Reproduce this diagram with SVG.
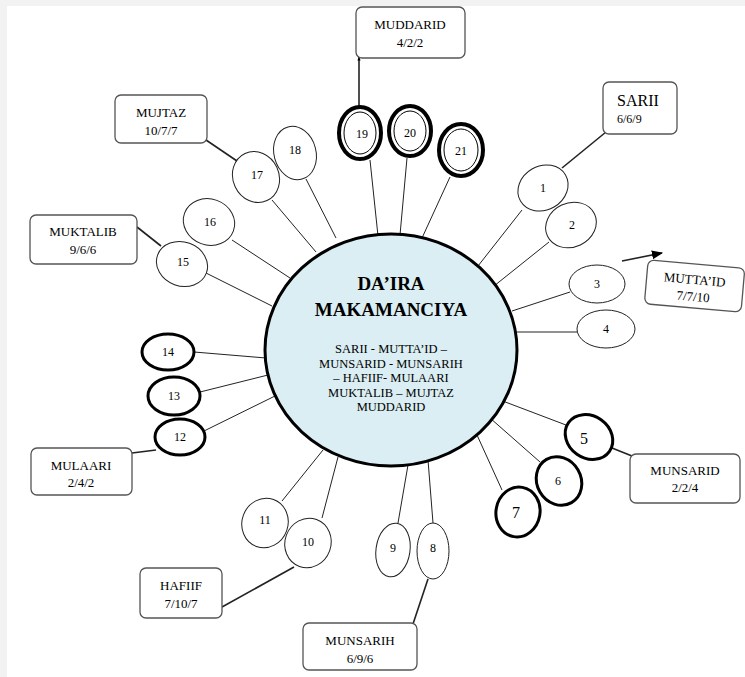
<svg xmlns="http://www.w3.org/2000/svg" width="745" height="677" viewBox="0 0 745 677">
<style>
.n{fill:#fff;stroke:#222;stroke-width:1}
.k{fill:#fff;stroke:#000;stroke-width:3}
.o{fill:#fff;stroke:#000;stroke-width:4}
.i{fill:none;stroke:#000;stroke-width:1}
.b{fill:#fff;stroke:#555;stroke-width:1.3}
.l{stroke:#222;stroke-width:1;fill:none}
.lt{stroke:#222;stroke-width:1.6;fill:none}
.t{font-family:"Liberation Serif",serif;font-size:12px;fill:#000;text-anchor:middle}
.bt{font-family:"Liberation Serif",serif;font-size:13px;fill:#000;text-anchor:middle}
.big{font-size:16px}
.sub{font-size:12.5px}
</style>
<defs>
<marker id="ah" viewBox="0 0 10 10" refX="9" refY="5" markerWidth="7" markerHeight="7" orient="auto"><path d="M0,1 L10,5 L0,9 z" fill="#000"/></marker>
<marker id="ah2" viewBox="0 0 10 10" refX="9" refY="5" markerWidth="2.5" markerHeight="2.5" orient="auto"><path d="M0,1 L10,5 L0,9 z" fill="#000"/></marker>
</defs>
<rect x="0" y="0" width="745" height="677" fill="#f2f2f2"/>
<rect x="7" y="6" width="738" height="671" fill="#fff"/>
<g id="connectors">
<line class="l" x1="522" y1="210" x2="478" y2="266"/>
<line class="lt" x1="562" y1="168" x2="606" y2="132"/>
<line class="l" x1="549" y1="242" x2="494" y2="286"/>
<line class="l" x1="570" y1="292" x2="512" y2="311"/>
<line class="l" x1="578" y1="332" x2="514" y2="332"/>
<line class="l" x1="566" y1="425" x2="500" y2="400"/>
<line class="lt" x1="612" y1="448" x2="632" y2="456"/>
<line class="l" x1="540" y1="462" x2="490" y2="418"/>
<line class="l" x1="502" y1="490" x2="477" y2="435"/>
<line class="l" x1="433" y1="523" x2="428" y2="460"/>
<line class="lt" x1="428" y1="579" x2="413" y2="624"/>
<line class="l" x1="398" y1="523" x2="408" y2="465"/>
<line class="l" x1="322" y1="518" x2="338" y2="457"/>
<line class="lt" x1="294" y1="567" x2="222" y2="607"/>
<line class="l" x1="282" y1="501" x2="323" y2="450"/>
<line class="l" x1="204" y1="431" x2="275" y2="396"/>
<line class="lt" x1="156" y1="450" x2="132" y2="453"/>
<line class="l" x1="200" y1="392" x2="268" y2="375"/>
<line class="l" x1="194" y1="352" x2="266" y2="358"/>
<line class="l" x1="206" y1="273" x2="272" y2="306"/>
<line class="lt" x1="137" y1="227" x2="161" y2="246"/>
<line class="l" x1="232" y1="240" x2="290" y2="278"/>
<line class="l" x1="272" y1="200" x2="316" y2="252"/>
<line class="lt" x1="206" y1="140" x2="237" y2="161"/>
<line class="l" x1="306" y1="179" x2="336" y2="238"/>
<line class="l" x1="370" y1="160" x2="378" y2="236"/>
<line class="lt" x1="359" y1="106" x2="359" y2="57" marker-end="url(#ah2)"/>
<line class="l" x1="407" y1="158" x2="400" y2="235"/>
<line class="l" x1="450" y1="177" x2="422" y2="238"/>
<line class="lt" x1="622" y1="261" x2="662" y2="253" marker-end="url(#ah)"/>
</g>
<g id="center">
<ellipse cx="391" cy="350" rx="126" ry="116" fill="#daeef3" stroke="#000" stroke-width="3"/>
<text class="t" x="391" y="290" style="font-size:19px;font-weight:bold">DA’IRA</text>
<text class="t" x="391" y="316" style="font-size:19px;font-weight:bold">MAKAMANCIYA</text>
<text class="t sub" x="391" y="353">SARII - MUTTA’ID –</text>
<text class="t sub" x="391" y="368">MUNSARID - MUNSARIH</text>
<text class="t sub" x="391" y="382">– HAFIIF- MULAARI</text>
<text class="t sub" x="391" y="397">MUKTALIB – MUJTAZ</text>
<text class="t sub" x="391" y="411">MUDDARID</text>
</g>
<g id="n1"><ellipse class="n" cx="543" cy="188" rx="26" ry="22" transform="rotate(-30 543 188)"/><text class="t" x="543" y="192">1</text></g>
<g id="n2"><ellipse class="n" cx="571" cy="225" rx="26" ry="22" transform="rotate(-25 571 225)"/><text class="t" x="572" y="229">2</text></g>
<g id="n3"><ellipse class="n" cx="597" cy="284" rx="28" ry="19"/><text class="t" x="597" y="288">3</text></g>
<g id="n4"><ellipse class="n" cx="606" cy="329" rx="29" ry="19"/><text class="t" x="606" y="333">4</text></g>
<g id="n5"><ellipse class="k" cx="589" cy="437" rx="25" ry="21" transform="rotate(35 589 437)"/><text class="t big" x="584" y="444">5</text></g>
<g id="n6"><ellipse class="k" cx="559" cy="481" rx="22" ry="25" transform="rotate(-30 559 481)"/><text class="t" x="558" y="485">6</text></g>
<g id="n7"><ellipse class="k" cx="518" cy="512" rx="22" ry="25" transform="rotate(10 518 512)"/><text class="t big" x="516" y="518">7</text></g>
<g id="n8"><ellipse class="n" cx="433" cy="551" rx="16" ry="28"/><text class="t" x="433" y="552">8</text></g>
<g id="n9"><ellipse class="n" cx="393" cy="550" rx="17" ry="27" transform="rotate(8 393 550)"/><text class="t" x="393" y="552">9</text></g>
<g id="n10"><ellipse class="n" cx="308" cy="543" rx="23" ry="25" transform="rotate(20 308 543)"/><text class="t" x="308" y="546">10</text></g>
<g id="n11"><ellipse class="n" cx="265" cy="523" rx="23" ry="25" transform="rotate(20 265 523)"/><text class="t" x="265" y="524">11</text></g>
<g id="n12"><ellipse class="k" cx="180" cy="437" rx="25" ry="18"/><text class="t" x="180" y="441">12</text></g>
<g id="n13"><ellipse class="k" cx="174" cy="396" rx="26" ry="19"/><text class="t" x="174" y="400">13</text></g>
<g id="n14"><ellipse class="k" cx="168" cy="352" rx="26" ry="18"/><text class="t" x="168" y="356">14</text></g>
<g id="n15"><ellipse class="n" cx="182" cy="264" rx="26" ry="22" transform="rotate(20 182 264)"/><text class="t" x="183" y="266">15</text></g>
<g id="n16"><ellipse class="n" cx="209" cy="222" rx="26" ry="23" transform="rotate(20 209 222)"/><text class="t" x="210" y="226">16</text></g>
<g id="n17"><ellipse class="n" cx="256" cy="177" rx="23" ry="26" transform="rotate(-25 256 177)"/><text class="t" x="257" y="179">17</text></g>
<g id="n18"><ellipse class="n" cx="295" cy="153" rx="21" ry="27" transform="rotate(-15 295 153)"/><text class="t" x="295" y="154">18</text></g>
<g id="n19"><ellipse class="o" cx="360" cy="133" rx="21" ry="26"/><ellipse class="i" cx="360" cy="133" rx="16" ry="21"/><text class="t" x="362" y="138">19</text></g>
<g id="n20"><ellipse class="o" cx="410" cy="131" rx="21" ry="25"/><ellipse class="i" cx="410" cy="131" rx="16" ry="20"/><text class="t" x="410" y="137">20</text></g>
<g id="n21"><ellipse class="o" cx="461" cy="150" rx="22" ry="26"/><ellipse class="i" cx="461" cy="150" rx="17" ry="21"/><text class="t" x="461" y="155">21</text></g>
<g id="muddarid"><rect class="b" x="356" y="7" width="109" height="51" rx="6"/><text class="bt" x="410" y="29">MUDDARID</text><text class="bt" x="410" y="47">4/2/2</text></g>
<g id="sarii"><rect class="b" x="603" y="82" width="74" height="52" rx="6"/><text class="t big" x="617" y="106" style="text-anchor:start">SARII</text><text class="t" x="617" y="123" style="text-anchor:start">6/6/9</text></g>
<g id="muttaid" transform="rotate(5 694 287)"><rect class="b" x="646" y="264" width="97" height="44" rx="6"/><text class="bt" x="694" y="284">MUTTA’ID</text><text class="bt" x="694" y="301">7/7/10</text></g>
<g id="munsarid"><rect class="b" x="630" y="454" width="110" height="49" rx="6"/><text class="bt" x="685" y="475">MUNSARID</text><text class="bt" x="685" y="492">2/2/4</text></g>
<g id="munsarih"><rect class="b" x="303" y="623" width="114" height="47" rx="6"/><text class="bt" x="360" y="645">MUNSARIH</text><text class="bt" x="360" y="663">6/9/6</text></g>
<g id="hafiif"><rect class="b" x="140" y="568" width="82" height="50" rx="6"/><text class="bt" x="181" y="590">HAFIIF</text><text class="bt" x="181" y="608">7/10/7</text></g>
<g id="mulaari"><rect class="b" x="31" y="448" width="101" height="47" rx="6"/><text class="bt" x="81" y="470">MULAARI</text><text class="bt" x="81" y="487">2/4/2</text></g>
<g id="muktalib"><rect class="b" x="30" y="215" width="107" height="49" rx="6"/><text class="bt" x="83" y="236">MUKTALIB</text><text class="bt" x="83" y="254">9/6/6</text></g>
<g id="mujtaz"><rect class="b" x="115" y="95" width="92" height="48" rx="6"/><text class="bt" x="161" y="117">MUJTAZ</text><text class="bt" x="161" y="135">10/7/7</text></g>
</svg>
